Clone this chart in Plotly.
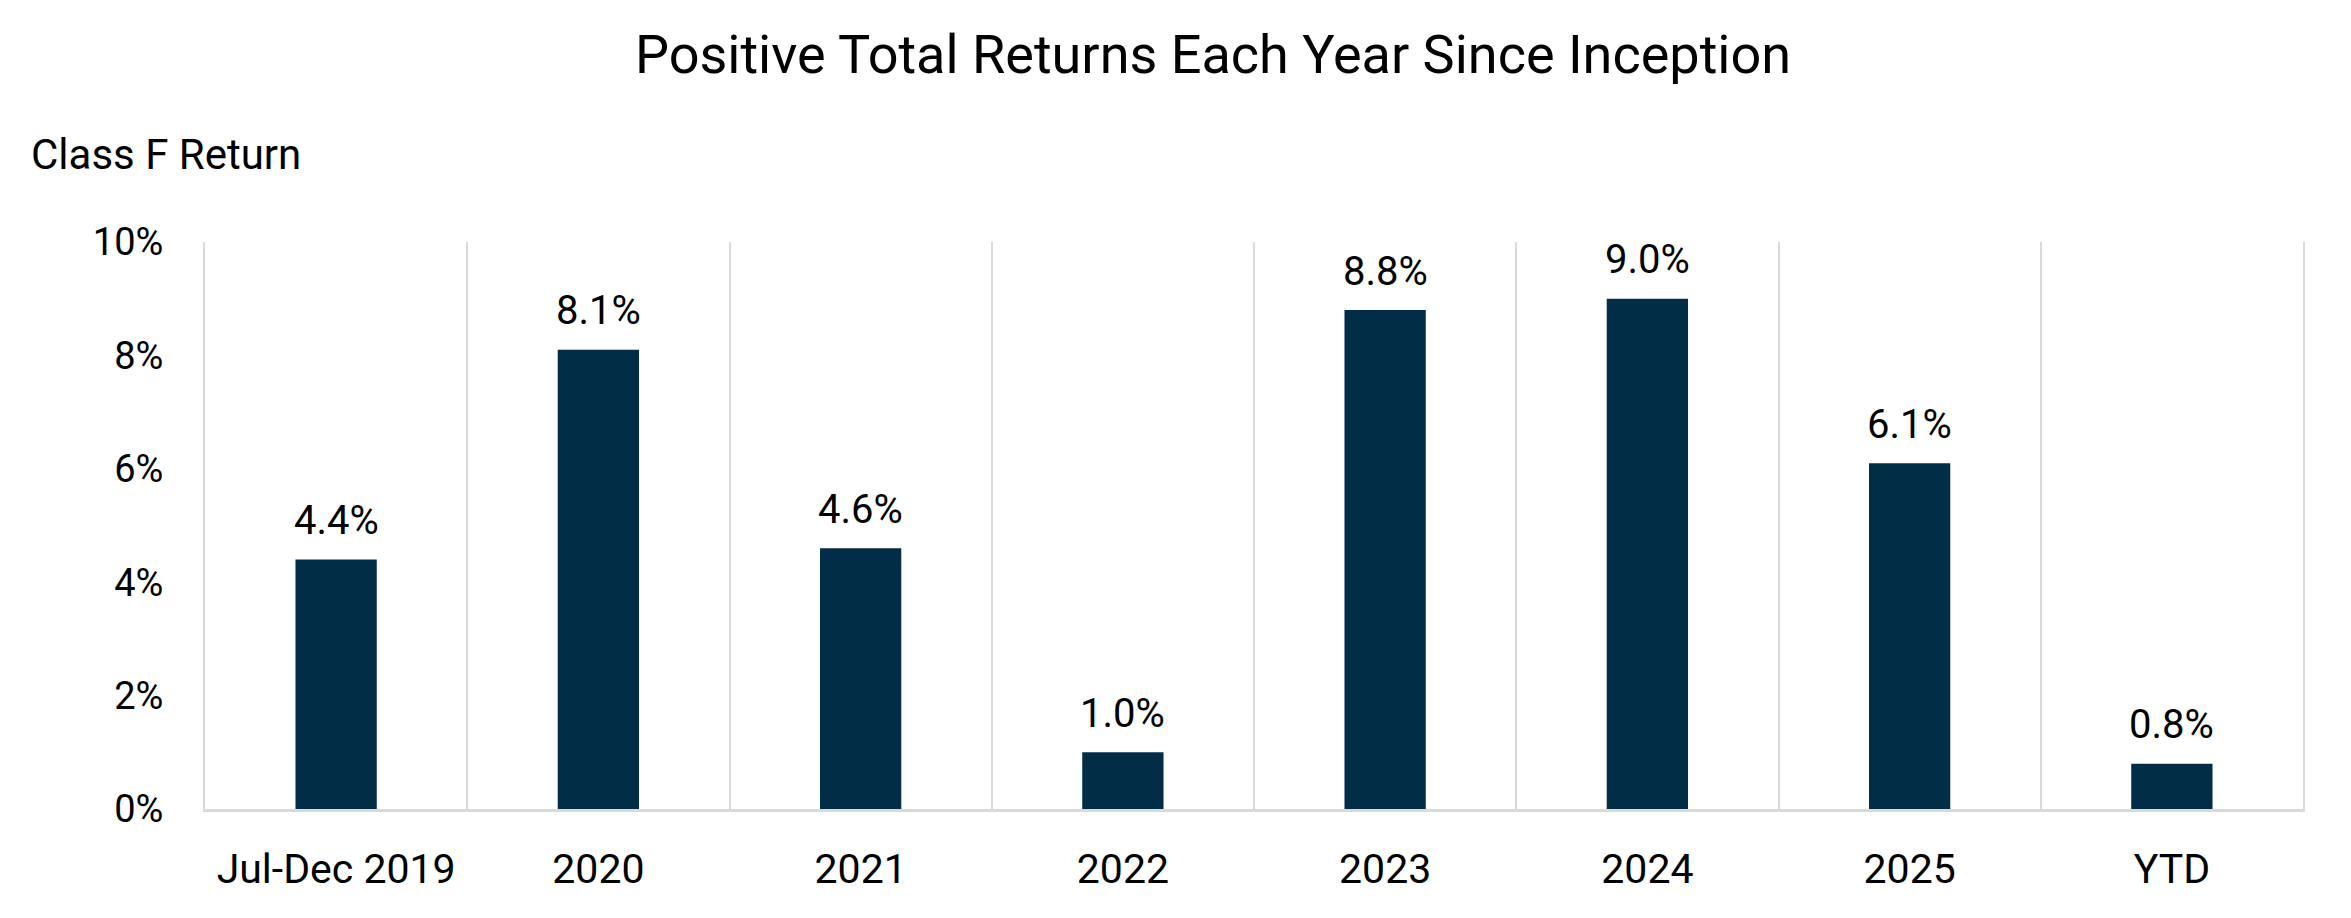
import plotly.graph_objects as go

# Class F calendar-year returns (%)
categories = ["Jul-Dec 2019", "2020", "2021", "2022", "2023", "2024", "2025", "YTD"]
returns = [4.4, 8.1, 4.6, 1.0, 8.8, 9.0, 6.1, 0.8]
y_ticks = [0, 2, 4, 6, 8, 10]
y_tick_labels = ["0%", "2%", "4%", "6%", "8%", "10%"]

FONT = "Roboto, 'DejaVu Sans Condensed', sans-serif"
NAVY = "#022d47"
GRID = "#d9d9d9"

W, H = 2351, 918
L, R, T, B = 197, 56, 234, 117

fig = go.Figure(go.Bar(
    x=categories,
    y=returns,
    marker=dict(color=NAVY, line=dict(width=0)),
    cliponaxis=False,
))

# value labels above each bar (x given as category index)
for i, val in enumerate(returns):
    fig.add_annotation(
        x=i, y=val, text=f"{val:.1f}%",
        showarrow=False, yanchor="middle", yshift=39,
        font=dict(family=FONT, size=40, color="#000000"),
    )

fig.update_layout(
    width=W, height=H,
    margin=dict(l=L, r=R, t=T, b=B),
    plot_bgcolor="white",
    paper_bgcolor="white",
    bargap=0.69,
    showlegend=False,
    title=dict(
        text="Positive Total Returns Each Year Since Inception",
        x=1205 / W, xref="container", xanchor="center",
        y=1 - 46 / H, yref="container", yanchor="middle",
        font=dict(family=FONT, size=54, color="#000000"),
    ),
)

fig.update_xaxes(
    type="category",
    categoryorder="array", categoryarray=categories,
    range=[-0.5, len(categories) - 0.5],
    tickson="boundaries",
    tickangle=0, automargin=False,
    showgrid=True, gridcolor=GRID, gridwidth=2,
    showline=True, linecolor=GRID, linewidth=3,
    ticks="", ticklabelstandoff=22,
    tickfont=dict(family=FONT, size=41, color="#000000"),
)

fig.update_yaxes(
    range=[0, 10],
    tickvals=y_ticks, ticktext=y_tick_labels,
    automargin=False,
    showgrid=False, zeroline=False,
    showline=True, mirror=True, linecolor=GRID, linewidth=2,
    ticks="outside", ticklen=32, tickcolor="rgba(0,0,0,0)",
    tickfont=dict(family=FONT, size=38, color="#000000"),
)

# axis caption above the y axis
fig.add_annotation(
    text="Class F Return",
    xref="paper", yref="paper",
    x=(21 - L) / (W - L - R), y=(H - B - 147) / (H - B - T),
    xanchor="left", yanchor="middle",
    showarrow=False,
    font=dict(family=FONT, size=42, color="#000000"),
)

fig.write_html("out.html")
